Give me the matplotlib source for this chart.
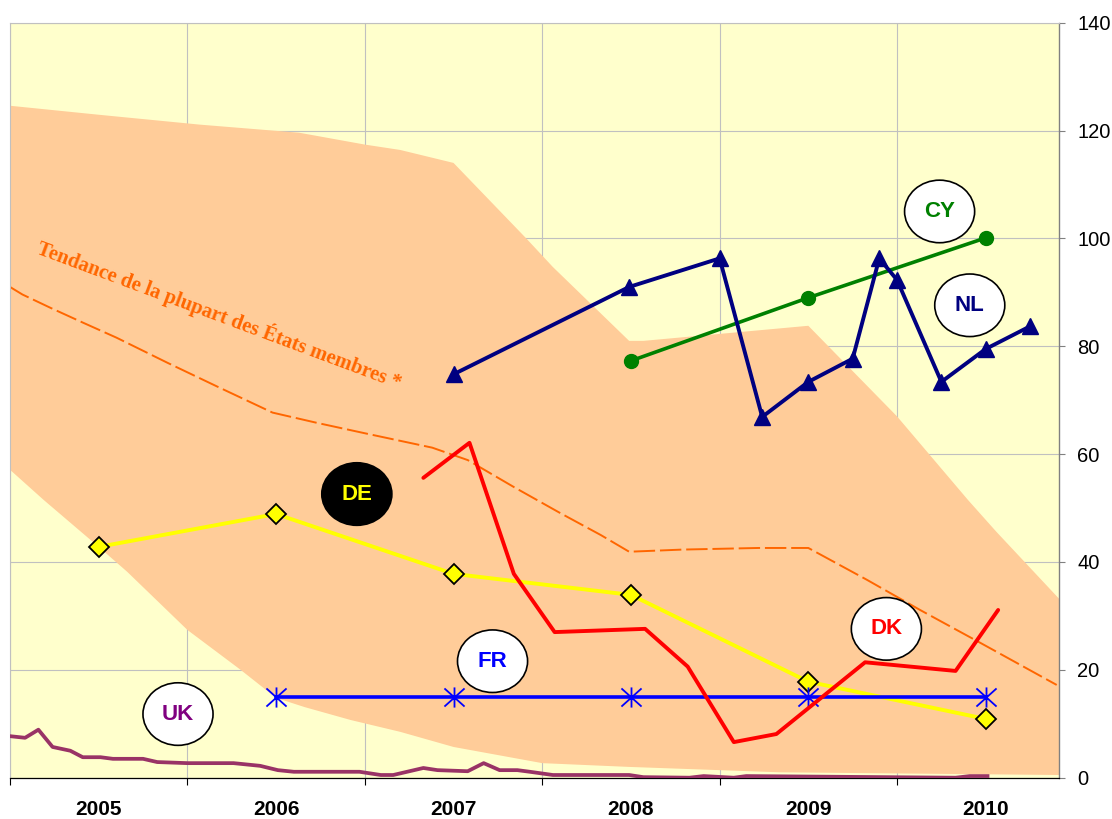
import matplotlib
matplotlib.use("Agg")
import matplotlib.pyplot as plt
from matplotlib.patches import Ellipse
from matplotlib.path import Path

# annual series (plotted at mid-year)
years = [2005, 2006, 2007, 2008, 2009, 2010]
de_vals = [42.8, 48.9, 37.8, 33.9, 17.8, 10.9]
fr_years = [2006, 2007, 2008, 2009, 2010]
fr_vals = [15, 15, 15, 15, 15]
cy_years = [2008, 2009, 2010]
cy_vals = [77.3, 89.0, 100.1]

# sub-annual series (x in fractional years)
nl_x = [2007.50, 2008.49, 2009.00, 2009.24, 2009.50, 2009.75, 2009.90, 2010.00, 2010.25, 2010.50, 2010.75]
nl_vals = [74.8, 91.0, 96.3, 66.9, 73.4, 77.7, 96.3, 92.3, 73.4, 79.5, 83.7]

dk_x = [2007.33, 2007.59, 2007.84, 2008.07, 2008.58, 2008.82, 2009.08, 2009.32, 2009.82, 2010.33, 2010.57]
dk_vals = [55.6, 62.1, 37.8, 27.0, 27.6, 20.6, 6.6, 8.1, 21.4, 19.8, 31.1]

uk_x = [2005.00, 2005.085, 2005.16, 2005.24, 2005.34, 2005.41, 2005.51, 2005.58, 2005.75, 2005.83,
        2006.00, 2006.26, 2006.41, 2006.51, 2006.60, 2006.97, 2007.09, 2007.16, 2007.33, 2007.41,
        2007.58, 2007.67, 2007.76, 2007.86, 2007.93, 2008.06, 2008.49, 2008.57, 2008.83, 2008.91,
        2009.08, 2009.15, 2010.33, 2010.41, 2010.51]
uk_vals = [7.7, 7.4, 8.9, 5.7, 5.0, 3.8, 3.8, 3.5, 3.5, 2.9,
           2.7, 2.7, 2.2, 1.4, 1.1, 1.1, 0.5, 0.5, 1.8, 1.4,
           1.2, 2.7, 1.4, 1.4, 1.1, 0.5, 0.5, 0.1, 0.0, 0.3,
           0.0, 0.3, 0.0, 0.3, 0.3]

# "most member states" trend and its band
trend_x = [2005.00, 2005.07, 2005.23, 2005.41, 2005.60, 2005.89, 2006.17, 2006.48, 2006.73, 2007.01,
           2007.38, 2007.58, 2007.84, 2008.10, 2008.33, 2008.49, 2008.79, 2009.22, 2009.50, 2009.83,
           2010.13, 2010.47, 2010.90]
trend_vals = [91.0, 89.6, 87.1, 84.4, 81.6, 76.9, 72.5, 67.7, 65.8, 63.8,
              61.2, 58.9, 53.9, 49.1, 45.0, 41.9, 42.3, 42.6, 42.6, 36.7,
              31.1, 25.0, 17.2]

band_up_x = [2005.00, 2005.51, 2006.07, 2006.63, 2007.00, 2007.20, 2007.50, 2007.91, 2008.06, 2008.49,
             2008.57, 2009.50, 2010.00, 2010.40, 2010.56, 2010.913]
band_up = [124.6, 122.9, 121.1, 119.6, 117.4, 116.4, 114.0, 100.0, 94.7, 81.0,
           81.0, 83.8, 67.0, 51.5, 45.6, 33.2]
band_lo_x = [2005.00, 2005.19, 2005.50, 2005.66, 2006.00, 2006.30, 2006.50, 2006.66, 2006.92, 2007.20,
             2007.50, 2008.00, 2008.49, 2009.34, 2010.913]
band_lo = [57.1, 51.5, 42.8, 38.2, 27.4, 20.0, 14.8, 13.1, 10.7, 8.5,
           5.7, 2.7, 2.0, 1.0, 0.5]

xlabels = ["2005", "2006", "2007", "2008", "2009", "2010"]
yticks = [0, 20, 40, 60, 80, 100, 120, 140]

plt.rcParams["font.family"] = ["Liberation Sans", "DejaVu Sans"]

fig = plt.figure(figsize=(11.12, 8.19), dpi=100)
ax = fig.add_axes([10 / 1112, 1 - 777.7 / 819, 1049 / 1112, 755 / 819])
ax.set_facecolor("#FFFFCC")
ax.set_xlim(2005, 2010.913)
ax.set_ylim(0, 140)

# band polygon: upper edge then lower edge reversed
poly_x = band_up_x + band_lo_x[::-1]
poly_y = band_up + band_lo[::-1]
ax.fill(poly_x, poly_y, color="#FFCC99", lw=0, zorder=1)

ax.plot(trend_x, trend_vals, color="#FF6600", lw=1.4, dashes=(11, 2.5), zorder=2)

ax.plot(uk_x, uk_vals, color="#993366", lw=2.7, zorder=3)

mid = lambda ys: [y + 0.5 for y in ys]

ax.plot(mid(years), de_vals, color="#FFFF00", lw=2.8, marker="D", ms=10,
        mfc="#FFFF00", mec="black", mew=1.3, zorder=4)

ast = Path([(0, -1), (0, 1), (-1, -0.9), (1, 0.9), (-1, 0.9), (1, -0.9)],
           [Path.MOVETO, Path.LINETO] * 3)
ax.plot(mid(fr_years), fr_vals, color="#0000FF", lw=2.6, marker=ast, ms=14.5,
        mec="#0000FF", mew=1.3, zorder=4)

ax.plot(dk_x, dk_vals, color="#FF0000", lw=2.8, zorder=5, solid_capstyle="round")

ax.plot(mid(cy_years), cy_vals, color="#008000", lw=2.6, marker="o", ms=10, zorder=5)

ax.plot(nl_x, nl_vals, color="#000080", lw=2.8, marker="^", ms=12, zorder=6)

# country tags
tags = [("UK", 2005.947, 11.8, "white", "#800080"),
        ("FR", 2007.72, 21.6, "white", "#0000FF"),
        ("DK", 2009.94, 27.6, "white", "#FF0000"),
        ("CY", 2010.24, 105.0, "white", "#008000"),
        ("NL", 2010.41, 87.6, "white", "#000080"),
        ("DE", 2006.955, 52.6, "black", "#FFFF00")]
for name, cx, cy, fc, tc in tags:
    ax.add_patch(Ellipse((cx, cy), 0.395, 11.6, facecolor=fc, edgecolor="black",
                         lw=1.2, zorder=7))
    ax.text(cx, cy, name, color=tc, fontsize=16, fontweight="bold",
            ha="center", va="center", zorder=8)

ax.text(2006.18, 85.7, "Tendance de la plupart des États membres *", color="#FF6600",
        fontsize=14.8, fontweight="heavy", family=["Liberation Serif", "DejaVu Serif"],
        rotation=-20.5, rotation_mode="anchor", ha="center", va="center", zorder=8)

# axes styling
ax.set_xticks(years)
ax.set_xticklabels([])
ax.set_xticks(mid(years), minor=True)
ax.set_xticklabels(xlabels, minor=True, fontsize=15, fontweight="bold")
ax.tick_params(axis="x", which="major", length=5, direction="out", color="black")
ax.tick_params(axis="x", which="minor", length=0, pad=16)

ax.yaxis.tick_right()
ax.set_yticks(yticks)
ax.set_yticklabels([str(v) for v in yticks], fontsize=14.5)
ax.tick_params(axis="y", length=4, pad=9, color="#808080")

ax.grid(True, which="major", color="#C0C0C0", lw=0.8, zorder=0)
ax.set_axisbelow(True)

for side in ["left", "top"]:
    ax.spines[side].set_color("#C0C0C0")
    ax.spines[side].set_linewidth(0.8)
ax.spines["right"].set_color("#808080")
ax.spines["right"].set_linewidth(1.0)
ax.spines["bottom"].set_color("black")
ax.spines["bottom"].set_linewidth(0.9)

fig.savefig("out.png", dpi=100)
